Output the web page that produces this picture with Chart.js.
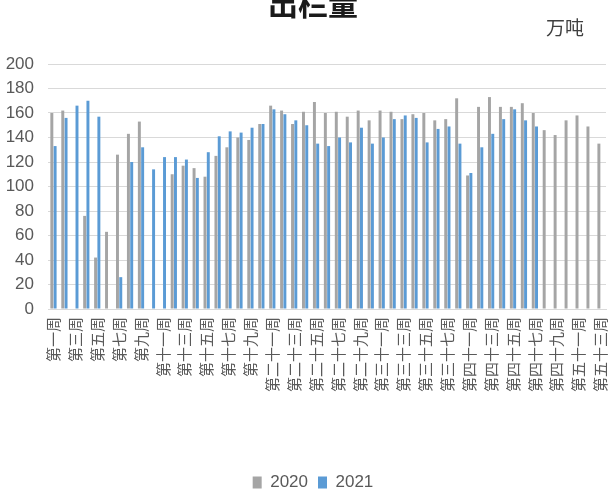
<!DOCTYPE html>
<html>
<head>
<meta charset="utf-8">
<script src="https://cdn.jsdelivr.net/npm/chart.js"></script>
<style>
  html, body { margin: 0; padding: 0; background: #fff; overflow: hidden; }
  #wrap { position: relative; width: 608px; height: 494px; overflow: hidden; }
  #myChart { position: absolute; left: 0; top: -14px; }
</style>
</head>
<body>
<div id="wrap">
  <canvas id="myChart" width="626" height="515"></canvas>
</div>
<script>
// week labels (weeks 39/40 are not in the source table)
const weeks = [
  "第一周", "第二周", "第三周", "第四周", "第五周", "第六周", "第七周", "第八周", "第九周", "第十周",
  "第十一周", "第十二周", "第十三周", "第十四周", "第十五周", "第十六周", "第十七周", "第十八周", "第十九周", "第二十周",
  "第二十一周", "第二十二周", "第二十三周", "第二十四周", "第二十五周", "第二十六周", "第二十七周", "第二十八周", "第二十九周", "第三十周",
  "第三十一周", "第三十二周", "第三十三周", "第三十四周", "第三十五周", "第三十六周", "第三十七周", "第三十八周",
  "第四十一周", "第四十二周", "第四十三周", "第四十四周", "第四十五周", "第四十六周", "第四十七周", "第四十八周", "第四十九周", "第五十周",
  "第五十一周", "第五十二周", "第五十三周"
];

const values2020 = [
  160, 162, null, 76, 42, 63, 126, 143, 153, null,
  null, 110, 117, 115, 108, 125, 132, 140, 138, 151,
  166, 162, 151, 161, 169, 160, 161, 157, 162, 154,
  162, 161, 155, 159, 160, 154, 155, 172,
  109, 165, 173, 165, 165, 168, 160, 146, 142, 154,
  158, 149, 135
];

const values2021 = [
  133, 156, 166, 170, 157, null, 26, 120, 132, 114,
  124, 124, 122, 107, 128, 141, 145, 144, 148, 151,
  163, 159, 154, 150, 135, 133, 140, 136, 148, 135,
  140, 155, 158, 156, 136, 147, 149, 135,
  111, 132, 143, 155, 163, 154, 149, null, null, null,
  null, null, null
];

const yTicks = [0, 20, 40, 60, 80, 100, 120, 140, 160, 180, 200];

const numFont = "'Liberation Sans Narrow', 'Liberation Sans', sans-serif";
const cjkFont = "'Noto Sans CJK SC', sans-serif";

// unit text in the top right corner
const unitLabel = {
  id: "unitLabel",
  afterDraw(chart) {
    const ctx = chart.ctx;
    ctx.save();
    ctx.font = "19px " + cjkFont;
    ctx.fillStyle = "#404040";
    ctx.textAlign = "center";
    ctx.textBaseline = "middle";
    ctx.fillText("万吨", 565, 42);
    ctx.restore();
  },
};

const ctx = document.getElementById("myChart").getContext("2d");
new Chart(ctx, {
  type: "bar",
  data: {
    labels: weeks,
    datasets: [
      {
        label: "2020",
        data: values2020,
        backgroundColor: "#a5a5a5",
        categoryPercentage: 0.6,
        barPercentage: 0.9,
      },
      {
        label: "2021",
        data: values2021,
        backgroundColor: "#5b9bd5",
        categoryPercentage: 0.6,
        barPercentage: 0.9,
      },
    ],
  },
  options: {
    responsive: false,
    animation: false,
    layout: { padding: 0 },
    plugins: {
      title: {
        display: true,
        text: "出栏量",
        color: "#1a1a1a",
        font: { family: cjkFont, size: 30, weight: "bold" },
        padding: { top: 0, bottom: 42 },
      },
      legend: {
        position: "bottom",
        labels: {
          boxWidth: 9,
          boxHeight: 12,
          padding: 10,
          color: "#595959",
          font: { family: numFont, size: 17 },
        },
      },
      tooltip: { enabled: false },
    },
    scales: {
      x: {
        grid: { display: false, drawTicks: false },
        border: { color: "#d9d9d9" },
        ticks: {
          autoSkip: false,
          maxRotation: 90,
          minRotation: 90,
          padding: 8,
          color: "#595959",
          font: { family: cjkFont, size: 15 },
          // only every other week is labelled
          callback: function (value, index) {
            return index % 2 === 0 ? this.getLabelForValue(value) : "";
          },
        },
        afterFit: (scale) => {
          scale.height = 155;
          scale.paddingLeft = 0;
          // plot ends near the page edge; the canvas runs on past it
          scale.paddingRight = 20;
        },
      },
      y: {
        min: yTicks[0],
        max: yTicks[yTicks.length - 1],
        afterBuildTicks: (scale) => {
          scale.ticks = yTicks.map((v) => ({ value: v }));
        },
        grid: { color: "#d9d9d9", drawTicks: false },
        border: { display: false },
        ticks: {
          padding: 14,
          color: "#595959",
          font: { family: numFont, size: 17 },
        },
        afterFit: (scale) => {
          scale.width = 48;
        },
      },
    },
  },
  plugins: [unitLabel],
});
</script>
</body>
</html>
